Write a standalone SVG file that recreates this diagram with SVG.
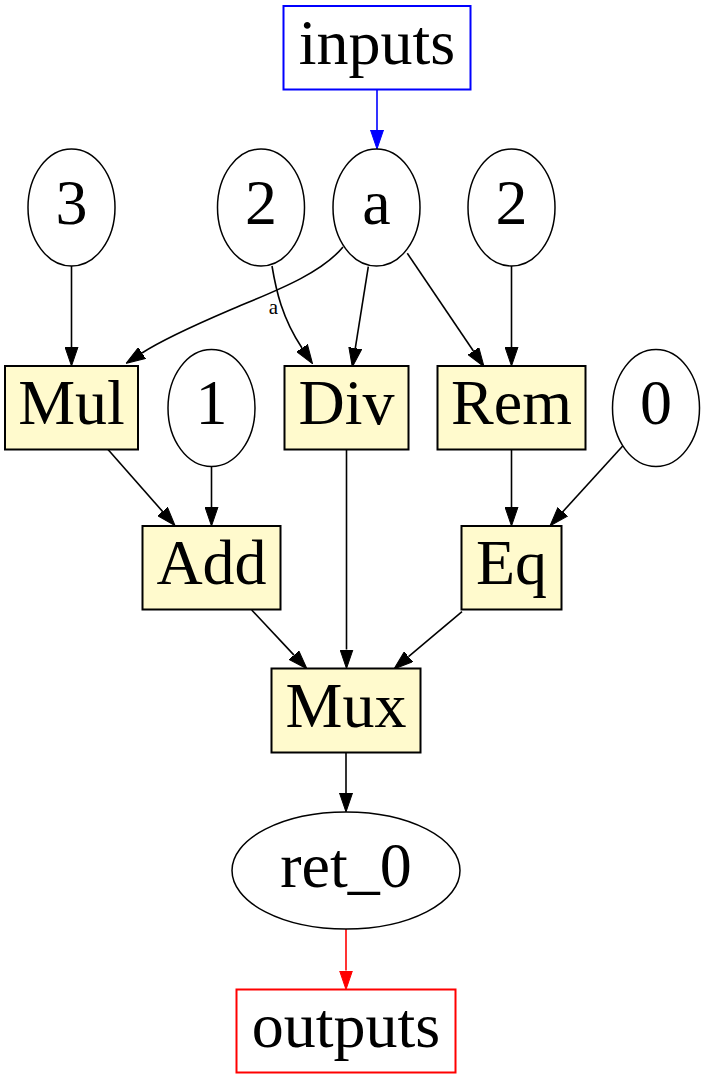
<svg xmlns="http://www.w3.org/2000/svg" width="706" height="1077" viewBox="0 0 706 1077">
<style>
.lbl{font-family:"Liberation Serif","Times New Roman",serif;font-size:64px;text-anchor:middle;fill:#000}
.elab{font-family:"Liberation Serif","Times New Roman",serif;font-size:21px;text-anchor:middle;fill:#000}
.op{fill:#fffacd;stroke:#000;stroke-width:2}
.ell{fill:#fff;stroke:#000;stroke-width:1.5}
.io{fill:#fff;stroke-width:2}
.e{fill:none;stroke:#000;stroke-width:1.6;marker-end:url(#ah)}
</style>
<defs>
<marker id="ah" markerUnits="userSpaceOnUse" viewBox="0 0 19 14" refX="0" refY="7" markerWidth="19" markerHeight="14" orient="auto"><path d="M0,0.5 L19,7 L0,13.5 z" fill="#000" stroke="#000" stroke-width="1"/></marker>
<marker id="ahb" markerUnits="userSpaceOnUse" viewBox="0 0 19 14" refX="0" refY="7" markerWidth="19" markerHeight="14" orient="auto"><path d="M0,0.5 L19,7 L0,13.5 z" fill="#00f" stroke="#00f" stroke-width="1"/></marker>
<marker id="ahr" markerUnits="userSpaceOnUse" viewBox="0 0 19 14" refX="0" refY="7" markerWidth="19" markerHeight="14" orient="auto"><path d="M0,0.5 L19,7 L0,13.5 z" fill="#f00" stroke="#f00" stroke-width="1"/></marker>
</defs>
<rect width="706" height="1077" fill="#fff"/>
<g id="edges">
<path d="M377,89.5 L377,130" style="fill:none;stroke:#00f;stroke-width:1.6;marker-end:url(#ahb)"/>
<path class="e" d="M71.5,266 L71.5,347"/>
<path class="e" d="M343,247 C320,275 270,293 230,310 C195,325 162,340 142,353"/>
<path class="e" d="M272,266 C276,290 282,318 302,348"/>
<text class="elab" x="273.5" y="314">a</text>
<path class="e" d="M368.3,266.7 L355.3,348.2"/>
<path class="e" d="M407.3,253.3 L473.4,351"/>
<path class="e" d="M511.5,266 L511.5,347"/>
<path class="e" d="M108,449.5 L162.5,511.4"/>
<path class="e" d="M211.5,466.5 L211.5,507"/>
<path class="e" d="M346.5,449.5 L346.5,649.5"/>
<path class="e" d="M511.5,449.5 L511.5,507"/>
<path class="e" d="M622.7,446 L562.8,511.7"/>
<path class="e" d="M251.7,610 L294,655.1"/>
<path class="e" d="M462,611.7 L408.5,656.7"/>
<path class="e" d="M346,752.5 L346,793"/>
<path d="M346,929 L346,970.5" style="fill:none;stroke:#f00;stroke-width:1.6;marker-end:url(#ahr)"/>
</g>
<g id="inputs"><rect class="io" x="283.5" y="6" width="187" height="83.5" stroke="#00f"/><text class="lbl" x="377" y="64">inputs</text></g>
<g id="c3"><ellipse class="ell" cx="71.5" cy="207.5" rx="43.5" ry="58.5"/><text class="lbl" x="71.5" y="224">3</text></g>
<g id="c2a"><ellipse class="ell" cx="261" cy="207.5" rx="43.5" ry="58.5"/><text class="lbl" x="261" y="224">2</text></g>
<g id="a"><ellipse class="ell" cx="376.5" cy="207.5" rx="43.5" ry="58.5"/><text class="lbl" x="376.5" y="224">a</text></g>
<g id="c2b"><ellipse class="ell" cx="511.5" cy="207.5" rx="43.5" ry="58.5"/><text class="lbl" x="511.5" y="224">2</text></g>
<g id="Mul"><rect class="op" x="5" y="366" width="133" height="83.5"/><text class="lbl" x="71.5" y="424">Mul</text></g>
<g id="c1"><ellipse class="ell" cx="211.5" cy="408" rx="43.5" ry="58.5"/><text class="lbl" x="211.5" y="424">1</text></g>
<g id="Div"><rect class="op" x="284.5" y="366" width="124" height="83.5"/><text class="lbl" x="346.5" y="424">Div</text></g>
<g id="Rem"><rect class="op" x="437.5" y="366" width="148" height="83.5"/><text class="lbl" x="511.5" y="424">Rem</text></g>
<g id="c0"><ellipse class="ell" cx="656" cy="408" rx="43.5" ry="58.5"/><text class="lbl" x="656" y="424">0</text></g>
<g id="Add"><rect class="op" x="142.5" y="526" width="138" height="83.5"/><text class="lbl" x="211.5" y="584">Add</text></g>
<g id="Eq"><rect class="op" x="461.5" y="526" width="100" height="83.5"/><text class="lbl" x="511.5" y="584">Eq</text></g>
<g id="Mux"><rect class="op" x="271.5" y="668.5" width="149" height="84"/><text class="lbl" x="346" y="727">Mux</text></g>
<g id="ret_0"><ellipse class="ell" cx="346" cy="870.5" rx="114" ry="58.5"/><text class="lbl" x="346" y="887">ret_0</text></g>
<g id="outputs"><rect class="io" x="236.5" y="989.5" width="219" height="83" stroke="#f00"/><text class="lbl" x="346" y="1047">outputs</text></g>
</svg>
